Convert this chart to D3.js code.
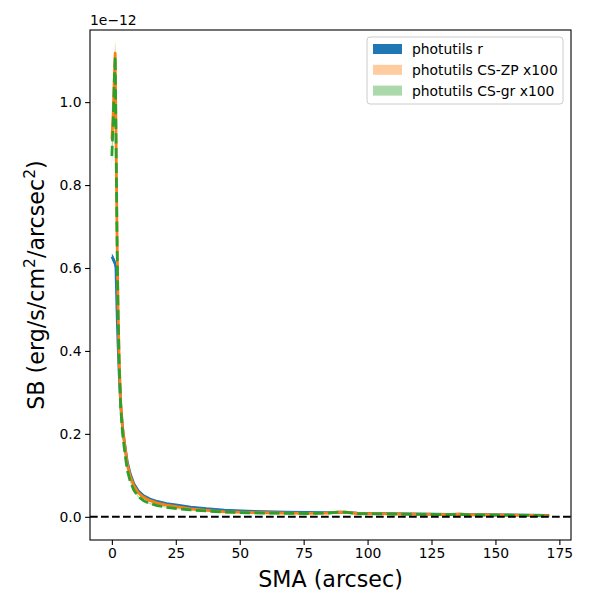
<!DOCTYPE html>
<html>
<head>
<meta charset="utf-8">
<script src="https://cdn.jsdelivr.net/npm/d3@7"></script>
<style>
  body { margin: 0; background: #fff; }
  svg { font-family: "DejaVu Sans", sans-serif; }
</style>
</head>
<body>
<div id="chart"></div>
<script>
// surface brightness profiles, values in units of 1e-12
const sma = [0, 0.5, 1.0, 1.3, 1.6, 2.0, 2.4, 2.9, 3.5, 4.2,
  5.0, 6.0, 7.2, 8.6, 10.3, 12.4, 14.9, 17.8, 21.4, 25.7,
  30.8, 37, 44, 53, 60, 68, 76, 84, 89, 92,
  96, 102, 110, 118, 126, 132, 136, 140, 148, 156, 164, 171];

const sbR = [0.627, 0.622, 0.615, 0.61, 0.6, 0.5, 0.42, 0.34, 0.265, 0.213,
  0.176, 0.133, 0.103, 0.08, 0.063, 0.051, 0.043, 0.037, 0.032, 0.028,
  0.0235, 0.0195, 0.0162, 0.0135, 0.0122, 0.0112, 0.0104, 0.0102, 0.0112, 0.0108,
  0.0088, 0.0085, 0.0078, 0.007, 0.0065, 0.006, 0.0063, 0.0055, 0.005, 0.0045, 0.004, 0.0032];

const sbZP = [0.91, 0.97, 1.07, 1.118, 0.94, 0.69, 0.51, 0.37, 0.27, 0.215,
  0.175, 0.127, 0.097, 0.075, 0.058, 0.047, 0.039, 0.033, 0.028, 0.024,
  0.019, 0.0155, 0.012, 0.0105, 0.0098, 0.009, 0.0085, 0.009, 0.0115, 0.011,
  0.008, 0.0078, 0.0072, 0.0065, 0.006, 0.0055, 0.0065, 0.005, 0.0045, 0.004, 0.0035, 0.0025];

const sbGR = [0.87, 0.95, 1.06, 1.11, 0.93, 0.68, 0.50, 0.36, 0.26, 0.20,
  0.158, 0.113, 0.085, 0.064, 0.049, 0.039, 0.032, 0.027, 0.023, 0.0195,
  0.0165, 0.014, 0.0115, 0.0098, 0.009, 0.0085, 0.008, 0.0088, 0.0115, 0.0105,
  0.0075, 0.0072, 0.0068, 0.006, 0.0058, 0.0052, 0.0062, 0.0048, 0.0042, 0.0038, 0.0033, 0.0022];

const errR = [0.008, 0.008, 0.008, 0.008, 0.008, 0.006, 0.005, 0.004, 0.003, 0.003,
  0.002, 0.002, 0.0015, 0.0015, 0.0012, 0.001, 0.001, 0.001, 0.001, 0.001,
  0.0008, 0.0008, 0.0008, 0.0008, 0.0008, 0.0008, 0.0008, 0.0008, 0.0008, 0.0008,
  0.0008, 0.0008, 0.0008, 0.0008, 0.0008, 0.0008, 0.0008, 0.0008, 0.0008, 0.0008, 0.0008, 0.0008];

const errZP = [0.03, 0.03, 0.035, 0.035, 0.03, 0.02, 0.015, 0.011, 0.008, 0.006,
  0.005, 0.004, 0.003, 0.0025, 0.002, 0.0018, 0.0016, 0.0015, 0.0014, 0.0013,
  0.0012, 0.0012, 0.0012, 0.0012, 0.0012, 0.0012, 0.0012, 0.0012, 0.0012, 0.0012,
  0.0012, 0.0012, 0.0012, 0.0012, 0.0012, 0.0012, 0.0012, 0.0012, 0.0012, 0.0012, 0.0012, 0.0012];

const errGR = [0.03, 0.03, 0.035, 0.035, 0.03, 0.02, 0.015, 0.011, 0.008, 0.006,
  0.005, 0.004, 0.003, 0.0025, 0.002, 0.0018, 0.0016, 0.0015, 0.0014, 0.0013,
  0.0012, 0.0012, 0.0012, 0.0012, 0.0012, 0.0012, 0.0012, 0.0012, 0.0012, 0.0012,
  0.0012, 0.0012, 0.0012, 0.0012, 0.0012, 0.0012, 0.0012, 0.0012, 0.0012, 0.0012, 0.0012, 0.0012];

const xTicks = [0, 25, 50, 75, 100, 125, 150, 175];
const yTicks = [0.0, 0.2, 0.4, 0.6, 0.8, 1.0];
const legendLabels = ['photutils r', 'photutils CS-ZP x100', 'photutils CS-gr x100'];

const width = 600, height = 600;
const margin = { top: 30, right: 29, bottom: 60, left: 90 };
const innerW = width - margin.left - margin.right;
const innerH = height - margin.top - margin.bottom;

const x = d3.scaleLinear().domain([-8.55, 179.55]).range([0, innerW]);
const y = d3.scaleLinear().domain([-0.0559, 1.1739]).range([innerH, 0]);

const svg = d3.select('#chart').append('svg')
  .attr('width', width).attr('height', height);
const g = svg.append('g').attr('transform', `translate(${margin.left},${margin.top})`);

g.append('clipPath').attr('id', 'clip')
  .append('rect').attr('width', innerW).attr('height', innerH);
const plot = g.append('g').attr('clip-path', 'url(#clip)');

// line widths in px (2pt at 100 dpi)
const series = [
  { v: sbR, e: errR, color: '#1f77b4', bandOpacity: 1, width: 2.78, dash: null },
  { v: sbZP, e: errZP, color: '#ff7f0e', bandOpacity: 0.4, width: 2.78, dash: null },
  { v: sbGR, e: errGR, color: '#2ca02c', bandOpacity: 0.4, width: 2.78, dash: '10.3,4.4' }
];

const area = d3.area()
  .x((d, i) => x(sma[i]))
  .y0(d => y(d[0]))
  .y1(d => y(d[1]));
const line = d3.line()
  .x((d, i) => x(sma[i]))
  .y(d => y(d));

series.forEach(s => {
  plot.append('path')
    .datum(s.v.map((v, i) => [v - s.e[i], v + s.e[i]]))
    .attr('fill', s.color)
    .attr('fill-opacity', s.bandOpacity)
    .attr('d', area);
});
series.forEach(s => {
  plot.append('path')
    .datum(s.v)
    .attr('fill', 'none')
    .attr('stroke', s.color)
    .attr('stroke-width', s.width)
    .attr('stroke-dasharray', s.dash)
    .attr('stroke-linejoin', 'round')
    .attr('d', line);
});

// zero line
plot.append('line')
  .attr('x1', 0).attr('x2', innerW)
  .attr('y1', y(0)).attr('y2', y(0))
  .attr('stroke', '#000')
  .attr('stroke-width', 2.08)
  .attr('stroke-dasharray', '7.7,3.3');

// axes
const xAxis = g.append('g').attr('transform', `translate(0,${innerH})`)
  .call(d3.axisBottom(x).tickValues(xTicks).tickSizeOuter(0).tickSize(4.9).tickPadding(3.5));
const yAxis = g.append('g')
  .call(d3.axisLeft(y).tickValues(yTicks).tickFormat(d3.format('.1f')).tickSizeOuter(0).tickSize(4.9).tickPadding(3.5));
[xAxis, yAxis].forEach(a => {
  a.select('.domain').remove();
  a.selectAll('line').attr('stroke', '#000').attr('stroke-width', 1.1);
  a.selectAll('text').attr('font-size', 13.9).attr('fill', '#000')
    .attr('font-family', '"DejaVu Sans", sans-serif');
});

g.append('rect')
  .attr('width', innerW).attr('height', innerH)
  .attr('fill', 'none').attr('stroke', '#000').attr('stroke-width', 1.1);

// offset text
g.append('text')
  .attr('x', 0).attr('y', -5)
  .attr('font-size', 13.9)
  .text('1e\u221212');

// axis labels
svg.append('text')
  .attr('x', margin.left + innerW / 2).attr('y', 587)
  .attr('text-anchor', 'middle')
  .attr('font-size', 22.2)
  .text('SMA (arcsec)');

const yl = svg.append('text')
  .attr('transform', `translate(44,${margin.top + innerH / 2}) rotate(-90)`)
  .attr('text-anchor', 'middle')
  .attr('font-size', 22.2);
yl.append('tspan').text('SB (erg/s/cm');
yl.append('tspan').attr('font-size', 15.5).attr('dy', -9).text('2');
yl.append('tspan').attr('dy', 9).text('/arcsec');
yl.append('tspan').attr('font-size', 15.5).attr('dy', -9).text('2');
yl.append('tspan').attr('dy', 9).text(')');

// legend
const lg = svg.append('g').attr('transform', 'translate(367,37)');
lg.append('rect')
  .attr('width', 196).attr('height', 67)
  .attr('rx', 3)
  .attr('fill', '#fff').attr('fill-opacity', 0.8)
  .attr('stroke', '#cccccc').attr('stroke-width', 1);
legendLabels.forEach((label, i) => {
  const s = series[i];
  const row = lg.append('g').attr('transform', `translate(0,${12 + i * 20.8})`);
  row.append('rect')
    .attr('x', 6).attr('y', -5).attr('width', 29).attr('height', 10)
    .attr('fill', s.color).attr('fill-opacity', s.bandOpacity);
  row.append('text')
    .attr('x', 45).attr('y', 5)
    .attr('font-size', 13.9)
    .text(label);
});
</script>
</body>
</html>
